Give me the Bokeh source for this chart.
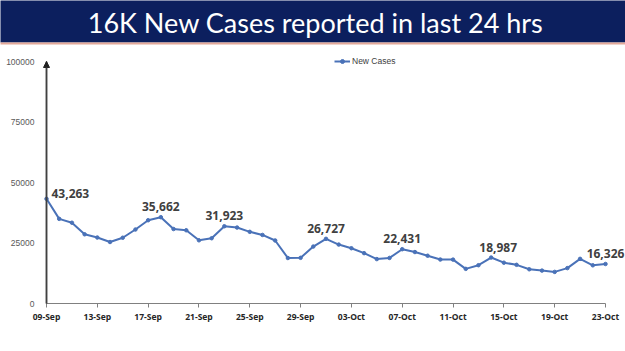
import pandas as pd
from bokeh.plotting import figure
from bokeh.models import (Range1d, FixedTicker, Arrow, NormalHead, ColumnDataSource, Legend,
                          BoxAnnotation, LinearAxis)
from bokeh.core.properties import value
from bokeh.embed import file_html
from bokeh.resources import INLINE

title_text = "16K New Cases reported in last 24 hrs"
series_name = "New Cases"
cases = [43263, 34973, 33376, 28591, 27254, 25404, 27176, 30570, 34403, 35662,
         30773, 30256, 26115, 26964, 31923, 31382, 29616, 28326, 26041, 18795,
         18870, 23529, 26727, 24354, 22842, 20799, 18346, 18833, 22431, 21257,
         19740, 18166, 18132, 14313, 15823, 18987, 16862, 15981, 14146, 13596,
         13058, 14623, 18454, 15786, 16326]
dates = [d.strftime("%d-%b") for d in pd.date_range("2021-09-09", periods=len(cases))]
y_ticks = [0, 25000, 50000, 75000, 100000]
label_idx = [0, 9, 14, 22, 28, 35, 44]

NAVY = "#0c1f5e"
BLUE = "#4a72b8"
W, H = 625, 351

# layout of the chart area in canvas pixels
AX_L, AX_R, AX_T, AX_B = 46, 605, 61, 303
n = len(cases) - 1
ymax = y_ticks[-1]
ppx = (AX_R - AX_L) / n
ppy = (AX_B - AX_T) / ymax
def xpx(px):
    return (px - AX_L) / ppx
def ypx(py):
    return (AX_B - py) / ppy

p = figure(width=W, height=H, x_range=Range1d(xpx(0), xpx(W)), y_range=Range1d(ypx(H), ypx(0)),
           toolbar_location=None, output_backend="svg",
           x_axis_type=None, y_axis_type=None, min_border=0)
p.outline_line_color = None
p.grid.visible = False
p.background_fill_color = "white"
p.border_fill_color = "white"

# banner
p.add_layout(BoxAnnotation(left=xpx(-10), right=xpx(W + 10), top=ypx(-10), bottom=ypx(42),
                           fill_color=NAVY, fill_alpha=1, line_color=None, level="underlay"))
p.add_layout(BoxAnnotation(left=xpx(-10), right=xpx(W + 10), bottom=ypx(44), top=ypx(42),
                           fill_color="#e3a898", fill_alpha=1, line_color=None, level="underlay"))
p.text(x=[xpx(315)], y=[ypx(22)], text=[title_text], text_color="white",
       text_font=value("Lato"), text_font_size="27px",
       text_align="center", text_baseline="middle")

# axes
ya = LinearAxis(fixed_location=0, bounds=(0, ymax), ticker=FixedTicker(ticks=y_ticks))
ya.major_label_overrides = {t: str(t) for t in y_ticks}
ya.major_tick_line_color = None
ya.minor_tick_line_color = None
ya.axis_line_color = "#404040"
ya.axis_line_width = 1.5
ya.major_label_text_color = "#595959"
ya.major_label_text_font = "Liberation Sans"
ya.major_label_text_font_size = "8.5px"
ya.major_label_standoff = 6
p.add_layout(ya, "left")

tick_pos = list(range(0, len(cases), 4))
xa = LinearAxis(fixed_location=0, bounds=(0, n), ticker=FixedTicker(ticks=tick_pos))
xa.major_label_overrides = {i: dates[i] for i in tick_pos}
xa.minor_tick_line_color = None
xa.major_tick_in = 0
xa.major_tick_out = 4
xa.major_tick_line_color = "#808080"
xa.axis_line_color = "#808080"
xa.axis_line_width = 1.2
xa.major_label_text_color = "#262626"
xa.major_label_text_font = "Open Sans"
xa.major_label_text_font_style = "bold"
xa.major_label_text_font_size = "8.5px"
xa.major_label_standoff = 3
p.add_layout(xa, "below")

p.add_layout(Arrow(end=NormalHead(size=6, fill_color="#222222", line_color="#222222"),
                   x_start=0, y_start=0, x_end=0, y_end=ymax,
                   line_color="#404040", line_width=1.5))

# series
src = ColumnDataSource(dict(x=list(range(len(cases))), y=cases))
r_line = p.line("x", "y", source=src, line_color=BLUE, line_width=2)
r_pts = p.scatter("x", "y", source=src, size=3.5, marker="circle", fill_color=BLUE, line_color=BLUE)

# data labels
first = label_idx[0]
p.text(x=[first], y=[cases[first]], text=[f"{cases[first]:,}"],
       text_font=value("Open Sans"), text_font_style="bold", text_font_size="12px",
       text_color="#404040", text_align="left", text_baseline="middle",
       x_offset=5, y_offset=-5)
rest = label_idx[1:]
xoffs = [7 if i == 35 else 0 for i in rest]
lsrc = ColumnDataSource(dict(x=rest, y=[cases[i] for i in rest],
                             t=[f"{cases[i]:,}" for i in rest], xo=xoffs))
p.text("x", "y", text="t", source=lsrc,
       text_font=value("Open Sans"), text_font_style="bold", text_font_size="12px",
       text_color="#404040", text_align="center", text_baseline="bottom",
       x_offset="xo", y_offset=-6)

legend = Legend(items=[(series_name, [r_line, r_pts])], location=(334, 285),
                background_fill_alpha=0, border_line_color=None,
                label_text_font="Liberation Sans", label_text_font_size="8.5px",
                label_text_color="#404040", glyph_width=16, glyph_height=10,
                label_standoff=2, padding=0, margin=0)
p.add_layout(legend)

open("out.html", "w").write(file_html(p, INLINE))
